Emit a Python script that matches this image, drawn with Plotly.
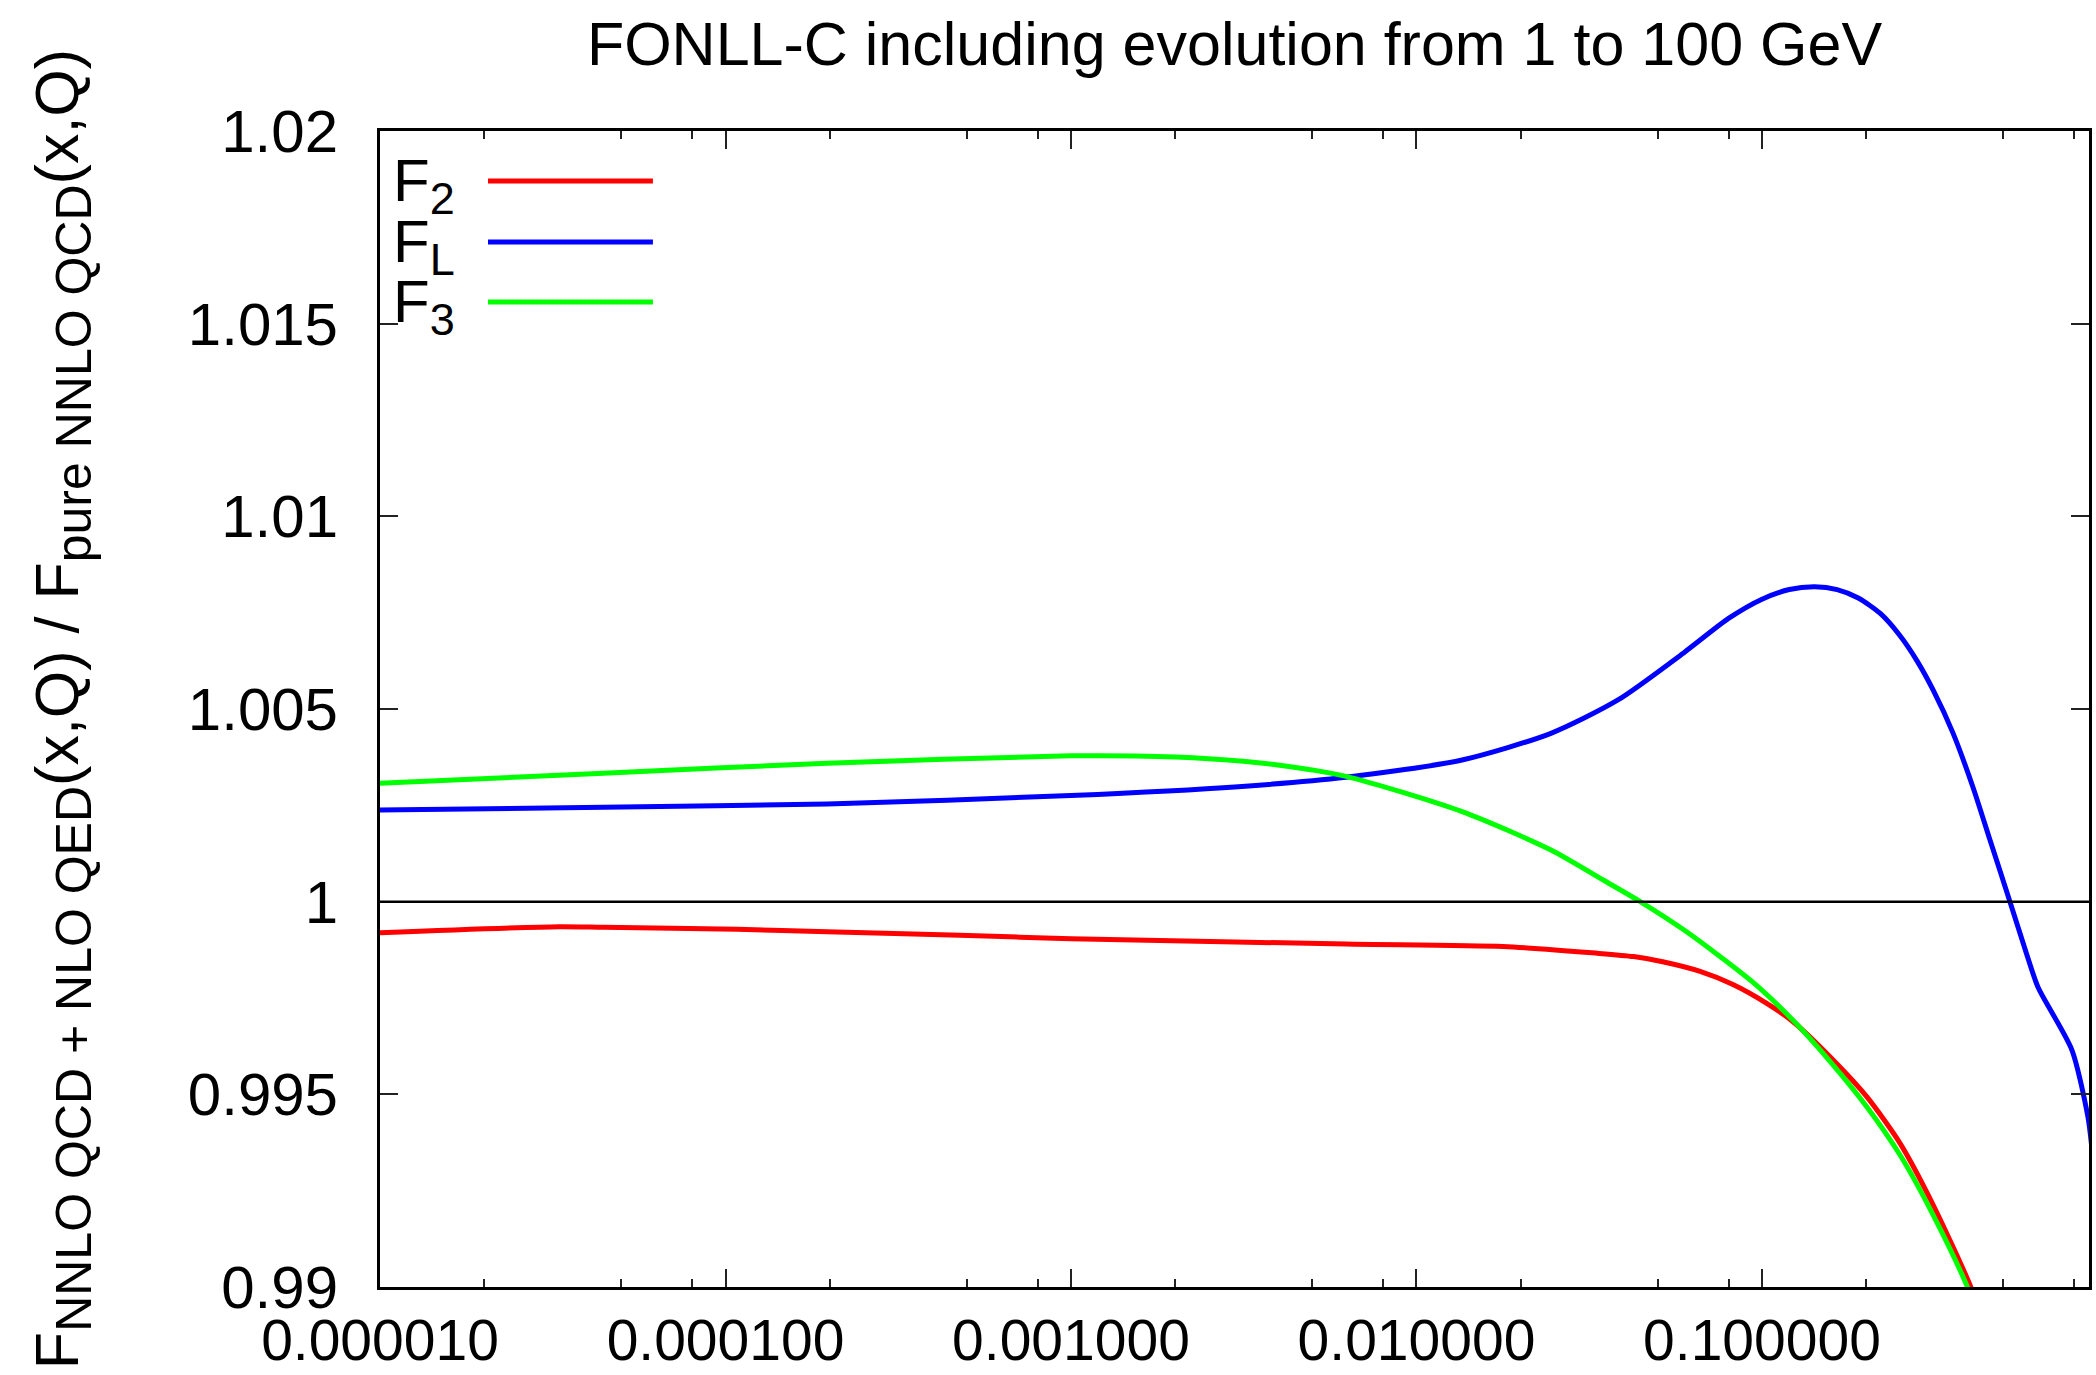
import plotly.graph_objects as go

# ---- data ----
x_f2 = [1e-5, 3.29e-5, 4.43e-5, 1.08e-4, 1.97e-4, 4.77e-4, 1.0e-3, 6.25e-3, 0.0178, 0.033, 0.0425,
        0.0516, 0.0662, 0.0824, 0.1032, 0.123, 0.1607, 0.201, 0.251, 0.313, 0.40, 0.45]
y_f2 = [0.999195, 0.999351, 0.999334, 0.999282, 0.999222, 0.999127, 0.999040, 0.998901, 0.998836, 0.998665, 0.998575,
        0.998440, 0.998190, 0.997850, 0.997361, 0.996885, 0.995891, 0.994939, 0.993728, 0.992128, 0.990052, 0.98880]

x_fl = [1e-5, 4.43e-5, 1.97e-4, 1.0e-3, 3.05e-3, 6.25e-3, 0.01355, 0.0245, 0.0383, 0.0598, 0.080,
        0.100, 0.120, 0.142, 0.165, 0.190, 0.220, 0.250, 0.281, 0.313, 0.357, 0.408, 0.457, 0.522, 0.5846,
        0.629, 0.789, 0.878, 0.90]
y_fl = [1.002379, 1.002449, 1.002535, 1.002755, 1.002984, 1.003227, 1.003676, 1.004369, 1.005235, 1.00648, 1.00735,
        1.00785, 1.00810, 1.00817, 1.00810, 1.00788, 1.00748, 1.00692, 1.00625, 1.00549, 1.00438, 1.00297, 1.0016, 1.0000, 0.998616,
        0.997785, 0.99615, 0.99441, 0.99366]

x_f3 = [1e-5, 4.43e-5, 1.97e-4, 1.0e-3, 1.54e-3, 2.5e-3, 3.87e-3, 6.25e-3, 0.01355, 0.0245, 0.0347, 0.0443,
        0.0598, 0.0935, 0.123, 0.1607, 0.201, 0.251, 0.313, 0.391, 0.45]
y_f3 = [1.003072, 1.003332, 1.003592, 1.003785, 1.00378, 1.00371, 1.00356, 1.00325, 1.002335, 1.001341, 1.000562, 1.00001,
        0.99925, 0.99793, 0.99692, 0.995760, 0.994680, 0.993425, 0.991868, 0.990052, 0.98860]

series_names = ["F<sub>2</sub>", "F<sub>L</sub>", "F<sub>3</sub>"]
series_colors = ["#ff0000", "#0000ff", "#00ff00"]

x_tickvals = [1e-5, 1e-4, 1e-3, 1e-2, 1e-1]
x_ticktext = ["0.000010", "0.000100", "0.001000", "0.010000", "0.100000"]
x_minor = [m * d for d in [1e-5, 1e-4, 1e-3, 1e-2, 1e-1] for m in (2, 5, 8)]
y_tickvals = [0.99, 0.995, 1.0, 1.005, 1.01, 1.015, 1.02]
y_ticktext = ["0.99", "0.995", "1", "1.005", "1.01", "1.015", "1.02"]

FONT = "Liberation Sans, Arial, Helvetica, sans-serif"

fig = go.Figure()
for xs, ys, name, col in [(x_f2, y_f2, series_names[0], series_colors[0]),
                          (x_fl, y_fl, series_names[1], series_colors[1]),
                          (x_f3, y_f3, series_names[2], series_colors[2])]:
    fig.add_trace(go.Scatter(x=xs, y=ys, mode="lines", name=name,
                             line=dict(color=col, width=5, shape="spline", smoothing=0.7),
                             showlegend=False))

# horizontal reference line at 1
fig.add_shape(type="line", xref="paper", x0=0, x1=1, yref="y", y0=1.0, y1=1.0,
              line=dict(color="black", width=2.5), layer="above")

# legend drawn gnuplot style: label then line sample
leg_y = [0.9567, 0.904, 0.852]
for name, col, yy in zip(series_names, series_colors, leg_y):
    txt = name.replace("<sub>", "<sub><span style='font-size:45px'>").replace("</sub>", "</span></sub>")
    fig.add_annotation(xref="paper", yref="paper", x=0.007, y=yy - 0.004, text=txt, showarrow=False,
                       xanchor="left", yanchor="middle", borderpad=0,
                       font=dict(family=FONT, size=60, color="black"))
    fig.add_shape(type="line", xref="paper", yref="paper", x0=0.0632, x1=0.1597, y0=yy, y1=yy,
                  line=dict(color=col, width=5))

ytitle = ("F<sub><span style='font-size:50px'>NNLO QCD + NLO QED</span></sub>(x,Q) / "
          "F<sub><span style='font-size:50px'>pure NNLO QCD</span></sub>(x,Q)")

fig.update_layout(
    width=2096, height=1375,
    margin=dict(l=380, r=7, t=131, b=88),
    paper_bgcolor="white", plot_bgcolor="white",
    font=dict(family=FONT, size=58, color="black"),
    title=dict(text="FONLL-C including evolution from 1 to 100 GeV", x=0.5, xref="paper",
               y=1 - 44 / 1375, yref="container", xanchor="center", yanchor="middle",
               font=dict(family=FONT, size=61, color="black")),
    xaxis=dict(type="log", range=[-5, -0.0535], tickvals=x_tickvals, ticktext=x_ticktext,
               ticks="inside", ticklen=18, tickwidth=2, tickcolor="#222",
               showline=True, linecolor="black", linewidth=3, mirror="ticks",
               showgrid=False, zeroline=False, ticklabelstandoff=2, automargin=False,
               minor=dict(tickvals=x_minor, ticks="inside", ticklen=8, tickwidth=2, tickcolor="#222", showgrid=False),
               tickfont=dict(family=FONT, size=57)),
    yaxis=dict(range=[0.99, 1.02], tickvals=y_tickvals, ticktext=y_ticktext,
               ticks="inside", ticklen=18, tickwidth=2, tickcolor="#222",
               showline=True, linecolor="black", linewidth=3, mirror="ticks",
               showgrid=False, zeroline=False, ticklabelstandoff=27, automargin=False,
               tickfont=dict(family=FONT, size=60),
               title=dict(text=ytitle, font=dict(family=FONT, size=61), standoff=90)),
)

fig.write_html("out.html")
